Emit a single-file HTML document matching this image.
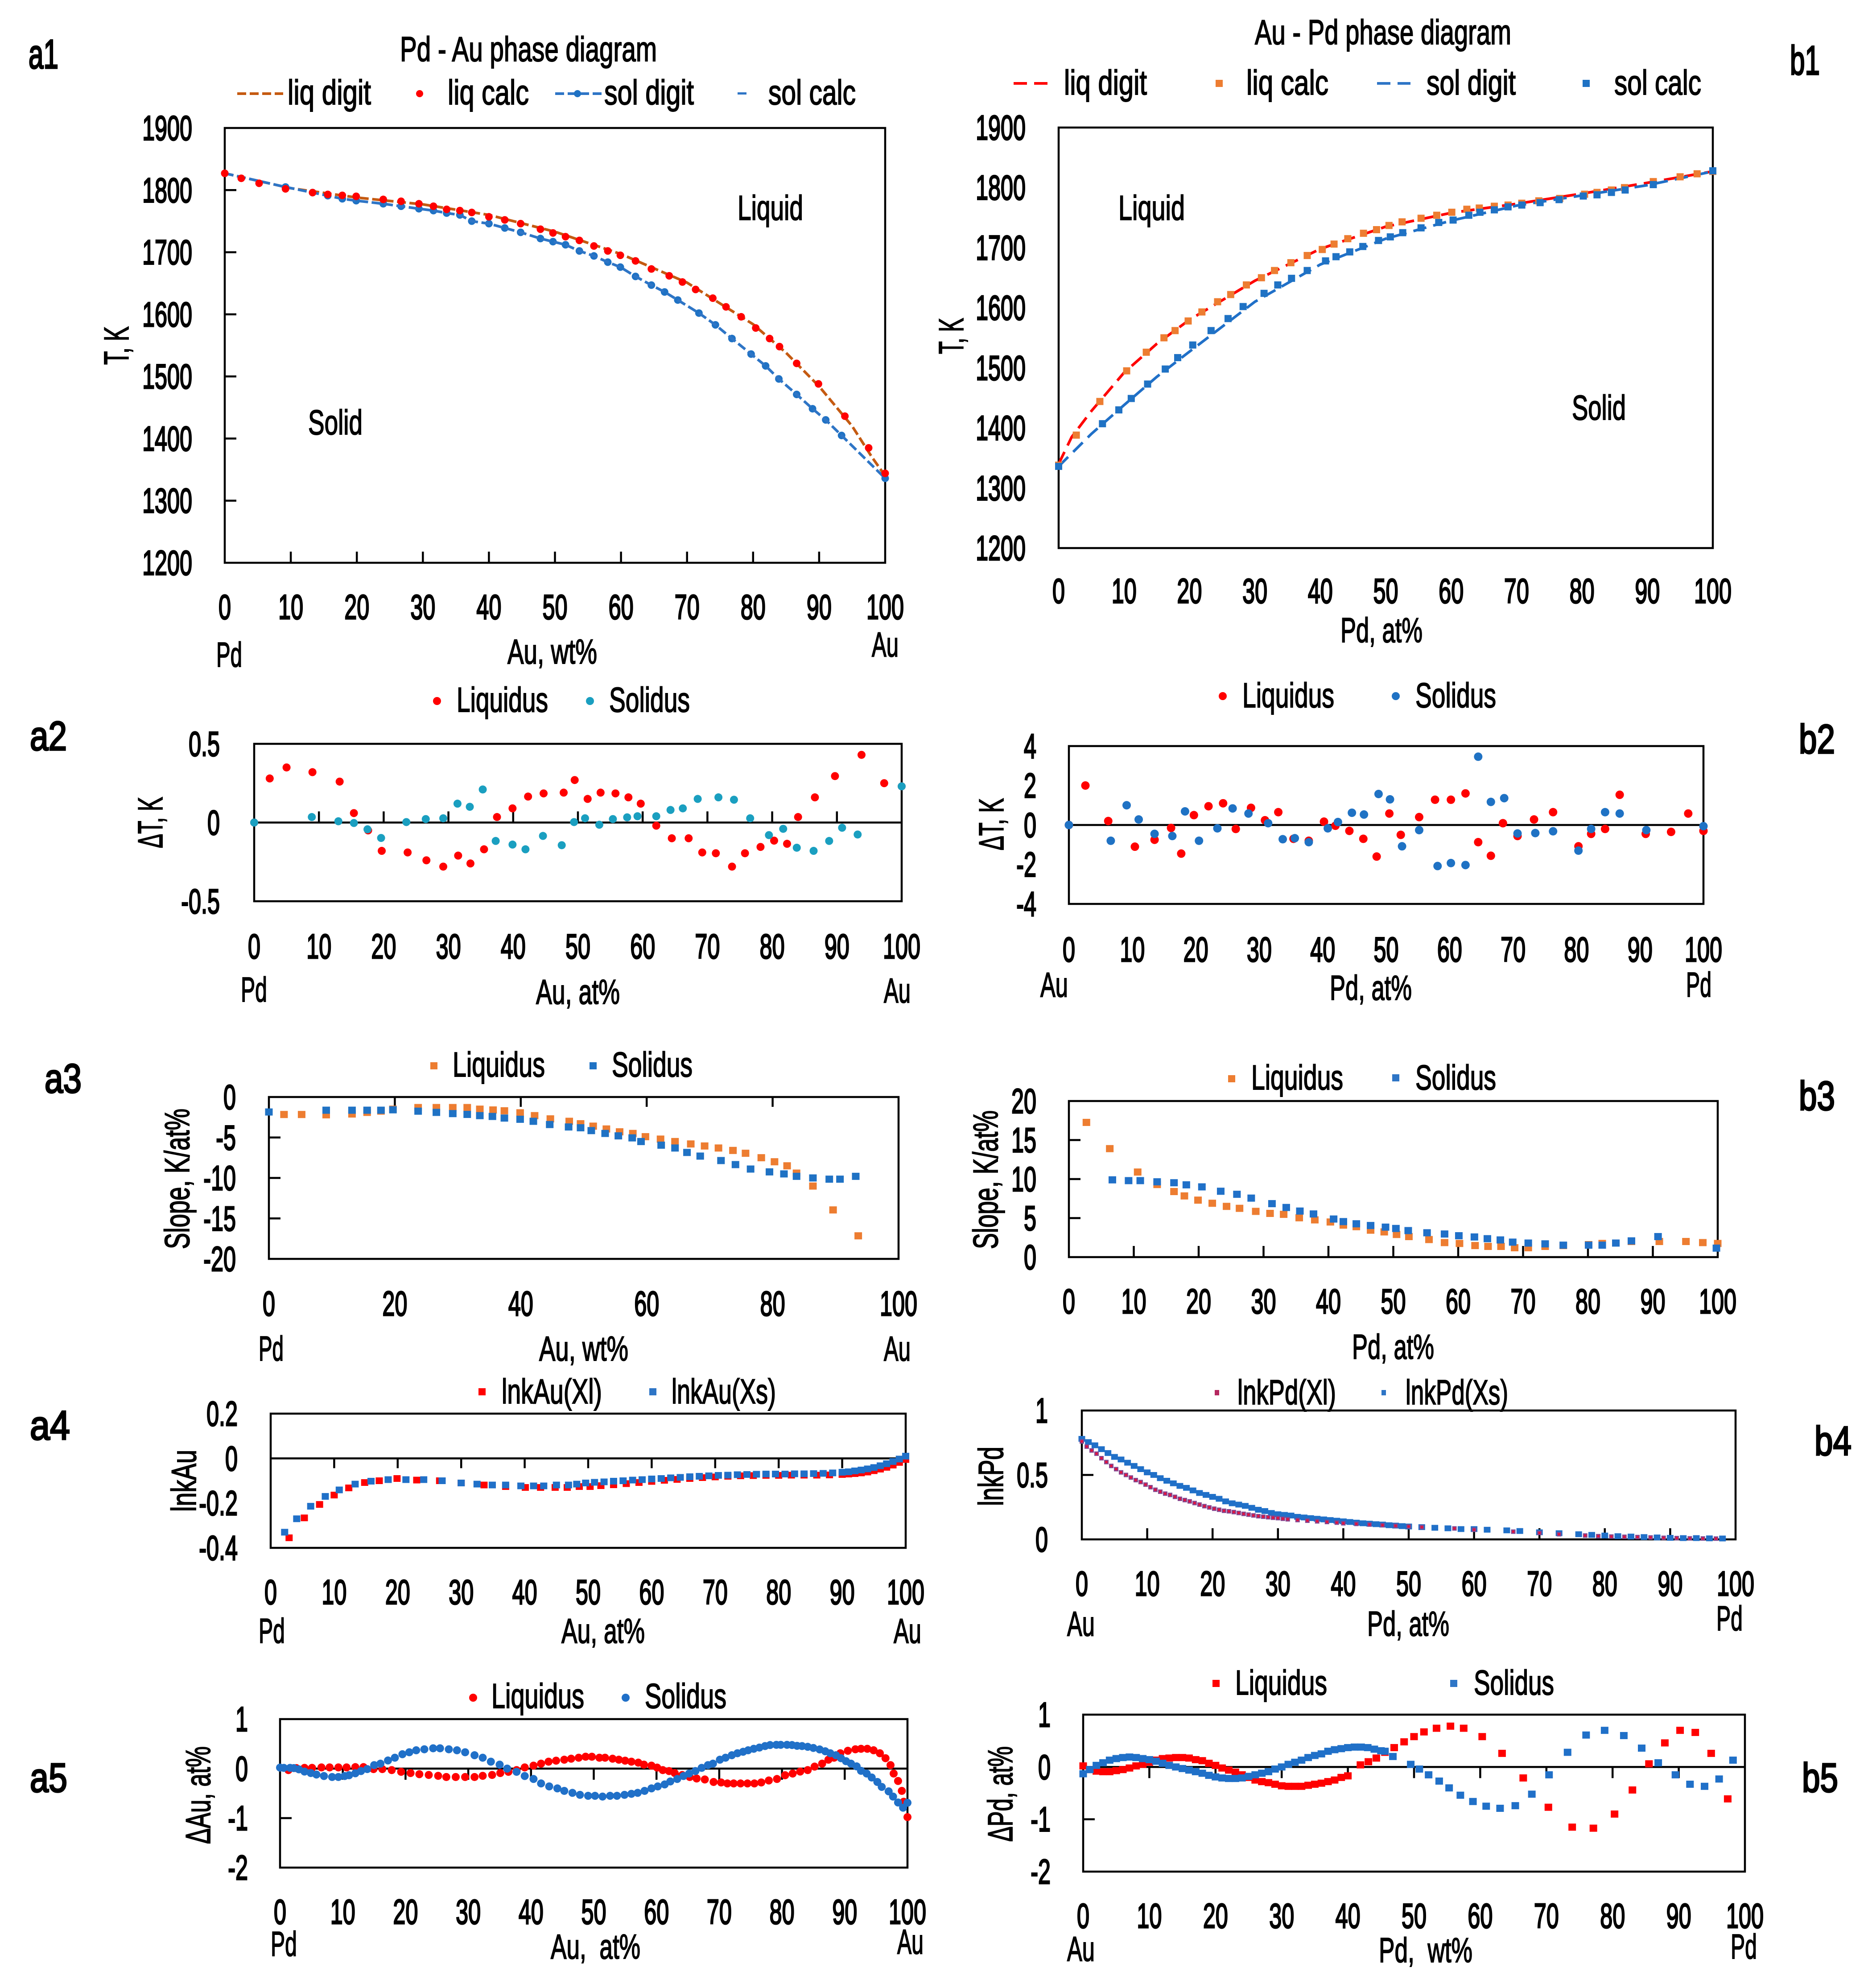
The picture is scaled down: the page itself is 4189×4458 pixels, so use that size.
<!DOCTYPE html>
<html lang="en">
<head>
<meta charset="utf-8">
<title>Pd-Au phase diagram panels</title>
<style>
html,body{margin:0;padding:0;background:#fff;}
svg{display:block;}
text{font-family:"Liberation Sans",sans-serif;font-size:78px;fill:#000;stroke:#000;stroke-width:2;}
.p{font-size:92px;stroke-width:3.5;}
</style>
</head>
<body>
<svg id="fig" xmlns="http://www.w3.org/2000/svg" width="4189" height="4458" viewBox="0 0 4189 4458">
<rect width="4189" height="4458" fill="#fff"/>

<!-- panel labels -->
<text class="p" x="64" y="153" textLength="67" lengthAdjust="spacingAndGlyphs">a1</text>
<text class="p" x="4014" y="167" textLength="67" lengthAdjust="spacingAndGlyphs">b1</text>
<text class="p" x="67" y="1682" textLength="83" lengthAdjust="spacingAndGlyphs">a2</text>
<text class="p" x="4034" y="1689" textLength="81" lengthAdjust="spacingAndGlyphs">b2</text>
<text class="p" x="100" y="2450" textLength="83" lengthAdjust="spacingAndGlyphs">a3</text>
<text class="p" x="4034" y="2489" textLength="81" lengthAdjust="spacingAndGlyphs">b3</text>
<text class="p" x="67" y="3228" textLength="90" lengthAdjust="spacingAndGlyphs">a4</text>
<text class="p" x="4069" y="3263" textLength="83" lengthAdjust="spacingAndGlyphs">b4</text>
<text class="p" x="67" y="4018" textLength="84" lengthAdjust="spacingAndGlyphs">a5</text>
<text class="p" x="4041" y="4018" textLength="81" lengthAdjust="spacingAndGlyphs">b5</text>

<!-- a1 static text -->
<text x="897" y="137" textLength="576" lengthAdjust="spacingAndGlyphs">Pd - Au phase diagram</text>
<g>
<line x1="532" y1="210" x2="635" y2="210" stroke="#c55a11" stroke-width="6" stroke-dasharray="20 8"/>
<text x="645" y="234" textLength="187" lengthAdjust="spacingAndGlyphs">liq digit</text>
<circle cx="941" cy="210" r="8" fill="#ff0000"/>
<text x="1004" y="234" textLength="182" lengthAdjust="spacingAndGlyphs">liq calc</text>
<line x1="1245" y1="210" x2="1350" y2="210" stroke="#2e75c6" stroke-width="6" stroke-dasharray="20 8"/>
<circle cx="1295" cy="210" r="8" fill="#1f72c4"/>
<text x="1355" y="234" textLength="201" lengthAdjust="spacingAndGlyphs">sol digit</text>
<rect x="1654" y="207" width="20" height="5" fill="#2e75c6"/>
<text x="1723" y="234" textLength="196" lengthAdjust="spacingAndGlyphs">sol calc</text>
</g>
<text x="1654" y="493" textLength="147" lengthAdjust="spacingAndGlyphs">Liquid</text>
<text x="691" y="974" textLength="122" lengthAdjust="spacingAndGlyphs">Solid</text>
<text x="485" y="1495" textLength="58" lengthAdjust="spacingAndGlyphs">Pd</text>
<text x="1138" y="1488" textLength="201" lengthAdjust="spacingAndGlyphs">Au, wt%</text>
<text x="1955" y="1472" textLength="60" lengthAdjust="spacingAndGlyphs">Au</text>
<text transform="translate(288 818) rotate(-90)" textLength="86" lengthAdjust="spacingAndGlyphs">T, K</text>

<!-- b1 static text -->
<text x="2814" y="99" textLength="575" lengthAdjust="spacingAndGlyphs">Au - Pd phase diagram</text>
<g>
<line x1="2273" y1="187" x2="2350" y2="187" stroke="#ff0000" stroke-width="6" stroke-dasharray="30 16"/>
<text x="2386" y="212" textLength="186" lengthAdjust="spacingAndGlyphs">liq digit</text>
<rect x="2726" y="179" width="16" height="16" fill="#ed7d31"/>
<text x="2795" y="212" textLength="184" lengthAdjust="spacingAndGlyphs">liq calc</text>
<line x1="3088" y1="187" x2="3163" y2="187" stroke="#2e75c6" stroke-width="6" stroke-dasharray="30 16"/>
<text x="3199" y="212" textLength="200" lengthAdjust="spacingAndGlyphs">sol digit</text>
<rect x="3549" y="179" width="16" height="16" fill="#1f72c4"/>
<text x="3620" y="212" textLength="195" lengthAdjust="spacingAndGlyphs">sol calc</text>
</g>
<text x="2508" y="493" textLength="149" lengthAdjust="spacingAndGlyphs">Liquid</text>
<text x="3525" y="941" textLength="121" lengthAdjust="spacingAndGlyphs">Solid</text>
<text x="3006" y="1440" textLength="184" lengthAdjust="spacingAndGlyphs">Pd, at%</text>
<text transform="translate(2160 794) rotate(-90)" textLength="81" lengthAdjust="spacingAndGlyphs">T, K</text>

<!-- a2 static text -->
<g>
<circle cx="980" cy="1572" r="9" fill="#ff0000"/>
<text x="1024" y="1596" textLength="205" lengthAdjust="spacingAndGlyphs">Liquidus</text>
<circle cx="1323" cy="1572" r="9" fill="#1a9fc0"/>
<text x="1366" y="1596" textLength="181" lengthAdjust="spacingAndGlyphs">Solidus</text>
</g>
<text x="540" y="2246" textLength="59" lengthAdjust="spacingAndGlyphs">Pd</text>
<text x="1202" y="2251" textLength="188" lengthAdjust="spacingAndGlyphs">Au, at%</text>
<text x="1982" y="2248" textLength="60" lengthAdjust="spacingAndGlyphs">Au</text>
<text transform="translate(364 1902) rotate(-90)" textLength="115" lengthAdjust="spacingAndGlyphs">ΔT, K</text>

<!-- b2 static text -->
<g>
<circle cx="2742" cy="1561" r="9" fill="#ff0000"/>
<text x="2786" y="1586" textLength="206" lengthAdjust="spacingAndGlyphs">Liquidus</text>
<circle cx="3130" cy="1561" r="9" fill="#1f72c4"/>
<text x="3174" y="1586" textLength="181" lengthAdjust="spacingAndGlyphs">Solidus</text>
</g>
<text x="2333" y="2235" textLength="62" lengthAdjust="spacingAndGlyphs">Au</text>
<text x="2982" y="2242" textLength="184" lengthAdjust="spacingAndGlyphs">Pd, at%</text>
<text x="3781" y="2235" textLength="57" lengthAdjust="spacingAndGlyphs">Pd</text>
<text transform="translate(2250 1907) rotate(-90)" textLength="117" lengthAdjust="spacingAndGlyphs">ΔT, K</text>

<!-- a3 static text -->
<g>
<rect x="965" y="2382" width="16" height="16" fill="#ed7d31"/>
<text x="1015" y="2414" textLength="207" lengthAdjust="spacingAndGlyphs">Liquidus</text>
<rect x="1322" y="2382" width="16" height="16" fill="#1f72c4"/>
<text x="1372" y="2414" textLength="181" lengthAdjust="spacingAndGlyphs">Solidus</text>
</g>
<text x="580" y="3051" textLength="56" lengthAdjust="spacingAndGlyphs">Pd</text>
<text x="1209" y="3051" textLength="200" lengthAdjust="spacingAndGlyphs">Au, wt%</text>
<text x="1982" y="3051" textLength="60" lengthAdjust="spacingAndGlyphs">Au</text>
<text transform="translate(424 2801) rotate(-90)" textLength="315" lengthAdjust="spacingAndGlyphs">Slope, K/at%</text>

<!-- b3 static text -->
<g>
<rect x="2754" y="2411" width="16" height="16" fill="#ed7d31"/>
<text x="2806" y="2443" textLength="206" lengthAdjust="spacingAndGlyphs">Liquidus</text>
<rect x="3122" y="2409" width="16" height="16" fill="#2e75c6"/>
<text x="3174" y="2443" textLength="181" lengthAdjust="spacingAndGlyphs">Solidus</text>
</g>
<text x="3032" y="3047" textLength="184" lengthAdjust="spacingAndGlyphs">Pd, at%</text>
<text transform="translate(2237 2801) rotate(-90)" textLength="311" lengthAdjust="spacingAndGlyphs">Slope, K/at%</text>

<!-- a4 static text -->
<g>
<rect x="1073" y="3113" width="16" height="16" fill="#ff0000"/>
<text x="1125" y="3147" textLength="225" lengthAdjust="spacingAndGlyphs">lnkAu(Xl)</text>
<rect x="1456" y="3113" width="16" height="16" fill="#2e75c6"/>
<text x="1506" y="3147" textLength="234" lengthAdjust="spacingAndGlyphs">lnkAu(Xs)</text>
</g>
<text x="580" y="3684" textLength="59" lengthAdjust="spacingAndGlyphs">Pd</text>
<text x="1259" y="3684" textLength="187" lengthAdjust="spacingAndGlyphs">Au, at%</text>
<text x="2004" y="3684" textLength="62" lengthAdjust="spacingAndGlyphs">Au</text>
<text transform="translate(439 3390) rotate(-90)" textLength="139" lengthAdjust="spacingAndGlyphs">lnkAu</text>

<!-- b4 static text -->
<g>
<rect x="2724" y="3117" width="10" height="12" fill="#b5285f"/>
<text x="2775" y="3149" textLength="221" lengthAdjust="spacingAndGlyphs">lnkPd(Xl)</text>
<rect x="3098" y="3117" width="10" height="12" fill="#2e75c6"/>
<text x="3152" y="3149" textLength="230" lengthAdjust="spacingAndGlyphs">lnkPd(Xs)</text>
</g>
<text x="2393" y="3668" textLength="62" lengthAdjust="spacingAndGlyphs">Au</text>
<text x="3066" y="3668" textLength="184" lengthAdjust="spacingAndGlyphs">Pd, at%</text>
<text x="3849" y="3656" textLength="59" lengthAdjust="spacingAndGlyphs">Pd</text>
<text transform="translate(2249 3377) rotate(-90)" textLength="133" lengthAdjust="spacingAndGlyphs">lnkPd</text>

<!-- a5 static text -->
<g>
<circle cx="1061" cy="3807" r="9" fill="#ff0000"/>
<text x="1102" y="3830" textLength="208" lengthAdjust="spacingAndGlyphs">Liquidus</text>
<circle cx="1403" cy="3807" r="9" fill="#2070c8"/>
<text x="1446" y="3830" textLength="183" lengthAdjust="spacingAndGlyphs">Solidus</text>
</g>
<text x="607" y="4386" textLength="59" lengthAdjust="spacingAndGlyphs">Pd</text>
<text x="1235" y="4392" textLength="201" lengthAdjust="spacingAndGlyphs" xml:space="preserve">Au,  at%</text>
<text x="2012" y="4381" textLength="59" lengthAdjust="spacingAndGlyphs">Au</text>
<text transform="translate(471 4135) rotate(-90)" textLength="219" lengthAdjust="spacingAndGlyphs">ΔAu, at%</text>

<!-- b5 static text -->
<g>
<rect x="2719" y="3767" width="16" height="16" fill="#ff0000"/>
<text x="2770" y="3800" textLength="206" lengthAdjust="spacingAndGlyphs">Liquidus</text>
<rect x="3252" y="3767" width="16" height="16" fill="#2e75c6"/>
<text x="3305" y="3800" textLength="180" lengthAdjust="spacingAndGlyphs">Solidus</text>
</g>
<text x="2393" y="4397" textLength="62" lengthAdjust="spacingAndGlyphs">Au</text>
<text x="3092" y="4400" textLength="210" lengthAdjust="spacingAndGlyphs" xml:space="preserve">Pd,  wt%</text>
<text x="3881" y="4392" textLength="59" lengthAdjust="spacingAndGlyphs">Pd</text>
<text transform="translate(2270 4130) rotate(-90)" textLength="214" lengthAdjust="spacingAndGlyphs">ΔPd, at%</text>
</svg>

<script>
/* ---------- tick labels ---------- */
const tens = [0,10,20,30,40,50,60,70,80,90,100];
const twenties = [0,20,40,60,80,100];
const a1YTicks = [1200,1300,1400,1500,1600,1700,1800,1900];
const a2YTicks = [-0.5,0,0.5];
const a3YTicks = [-20,-15,-10,-5,0];
const a4YTicks = [-0.4,-0.2,0,0.2];
const a5YTicks = [-2,-1,0,1];
const b2YTicks = [-4,-2,0,2,4];
const b3YTicks = [0,5,10,15,20];
const b4YTicks = [0,0.5,1];

/* ---------- a1 ---------- */
const a1LiqCalcX = [0,2.5,5.2,9.2,13.3,15.6,17.8,19.9,24,26.7,29.4,31.6,33.6,35.6,37.4,40,42.4,44.8,47.8,49.7,51.6,53.7,55.9,58,59.9,62.2,64.6,67.3,69.3,71.3,73.9,75.9,78.2,80.4,82.5,84,86.6,89.9,93.9,97.5,100];
const a1LiqCalcT = [1827,1819,1811,1802,1796,1793,1791.5,1790,1785,1782,1778,1774,1769,1767,1764,1757,1752,1746,1737,1731,1725,1719,1710,1702,1695,1686,1673,1662,1652,1640,1626,1612,1596,1578,1561,1548,1521,1488,1436,1385,1344];
const a1LiqDigitX = [0,10,20,30,40,50,60,70,80,85,90,95,98,100];
const a1LiqDigitT = [1827,1803,1788,1777,1760,1733,1697,1651,1584,1538,1484,1420,1370,1340];
const a1SolDigitX = [0,9.2,13.3,15.6,17.8,19.9,24,26.7,29.4,31.6,33.6,35.6,37.4,40,42.4,44.8,47.8,49.7,51.6,53.7,55.9,58,59.9,62.2,64.6,66.6,68.6,71.8,74.3,76.8,79.7,81.9,83.9,86.6,89,91,93.4,100];
const a1SolDigitT = [1827,1805,1796,1791,1786,1783,1778,1774,1770,1767,1763,1760,1750,1746,1739,1732,1722,1717,1712,1702,1694,1684,1676,1661,1647,1636,1623,1602,1583,1561,1536,1517,1496,1471,1448,1430,1405,1336];

/* ---------- b1 ---------- */
const b1LiqCalcX = [0,2.7,6.3,10.4,13.4,16.1,17.8,19.8,21.9,24.3,26.3,28.7,31,33,35.5,38,40.3,42.1,44.2,46.6,48.6,50.5,52.5,55.4,57.8,60.1,62.4,64.3,66.6,68.7,70.8,73.4,76.6,80.4,82.3,84.5,86.5,90.9,95,97.6,100];
const b1LiqCalcT = [1338,1388,1444,1495,1526,1550,1562,1578,1593,1610,1622,1638,1650,1662,1675,1687,1697,1706,1715,1724,1730,1737,1743,1749,1754,1759,1764,1766,1769,1771,1774,1778,1782,1789,1792,1796,1800,1810,1818,1823,1827];
const b1SolCalcX = [0,6.7,9.2,11.1,13.6,16.3,18.2,20.5,23.3,25.9,28.2,31.4,33.5,35.6,38,40.8,42.4,44.5,46.5,48.9,50.7,52.6,55.4,58.1,60.3,62.7,64.4,66.6,68.7,70.8,73.6,76.5,80.2,82.3,84.5,86.6,90.9,100];
const b1SolCalcT = [1336,1407,1430,1449,1473,1498,1517,1538,1562,1582,1602,1624,1638,1649,1662,1678,1685,1693,1702,1712,1718,1725,1733,1742,1746,1754,1759,1763,1768,1771,1775,1780,1786,1788,1792,1796,1805,1828];
const b1LiqDigitX = [0,2,5,10,15,20,30,40,50,60,70,80,90,100];
const b1LiqDigitT = [1340,1385,1428,1492,1540,1580,1645,1698,1735,1758,1773,1790,1808,1827];
const b1SolDigitX = [0,5,10,15,20,30,40,50,60,70,80,90,100];
const b1SolDigitT = [1336,1390,1438,1485,1527,1610,1672,1715,1745,1770,1787,1804,1827];

/* ---------- a2 ---------- */
const a2LiqX = [0,2.4,5,9,13.2,15.4,17.6,19.7,23.7,26.6,29.2,31.5,33.4,35.5,37.5,39.9,42.3,44.7,47.8,49.5,51.5,53.5,55.8,57.8,59.7,62.1,64.5,67.1,69.2,71.3,73.8,75.8,78.2,80.3,82.3,84,86.6,89.7,93.8,97.3,100];
const a2LiqY = [0,.28,.35,.32,.26,.06,-.05,-.18,-.19,-.24,-.28,-.21,-.26,-.17,.035,.09,.165,.185,.19,.27,.15,.19,.185,.16,.12,-.02,-.1,-.1,-.19,-.195,-.28,-.195,-.155,-.115,-.135,.035,.16,.295,.43,.25,.23];
const a2SolX = [0,8.9,13,15.4,17.5,19.6,23.5,26.5,29.2,31.4,33.3,35.3,37.3,39.9,41.9,44.6,47.5,49.4,51.1,53.3,55.4,57.6,59.2,62.1,64.3,66.2,68.5,71.7,74.1,76.6,79.5,81.7,83.8,86.4,88.8,90.8,93.2,100];
const a2SolY = [0,.035,.008,-.003,-.043,-.098,.003,.022,.027,.12,.1,.21,-.117,-.14,-.17,-.085,-.144,.003,.027,-.014,.022,.033,.04,.04,.08,.09,.15,.16,.145,.027,-.08,-.04,-.16,-.18,-.117,-.033,-.076,.23];

/* ---------- a3 ---------- */
const a3LiqX = [2.4,5.2,9.1,13.2,15.6,17.8,19.7,23.7,26.6,29.2,31.5,33.5,35.6,37.4,39.9,42.2,44.7,47.7,49.5,51.5,53.6,55.7,57.8,59.8,62.2,64.5,67,69.2,71.4,73.7,75.7,78.2,80.3,82.3,83.8,86.4,89.6,93.6];
const a3LiqY = [-2.16,-2.16,-2.2,-2.1,-1.9,-1.74,-1.5,-1.3,-1.3,-1.3,-1.3,-1.5,-1.6,-1.7,-1.95,-2.3,-2.7,-3,-3.3,-3.6,-3.95,-4.3,-4.5,-4.9,-5.2,-5.5,-5.8,-6.05,-6.3,-6.6,-6.95,-7.5,-8,-8.5,-9.4,-11,-13.95,-17.15];
const a3SolX = [0,9.1,13.2,15.6,17.8,19.7,23.7,26.6,29.2,31.5,33.5,35.5,37.4,39.9,42,44.6,47.6,49.5,51.2,53.4,55.5,57.7,59.1,62.3,64.5,66.4,68.5,71.8,74.1,76.5,79.5,81.8,83.8,86.4,89,90.7,93.2];
const a3SolY = [-1.85,-1.63,-1.63,-1.63,-1.63,-1.58,-1.75,-1.9,-2.05,-2.15,-2.3,-2.4,-2.6,-2.75,-3,-3.4,-3.7,-3.8,-4.15,-4.5,-4.8,-5.05,-5.5,-5.95,-6.3,-6.85,-7.3,-7.85,-8.35,-8.9,-9.25,-9.5,-9.8,-10,-10.15,-10.15,-9.8];

/* ---------- b2 ---------- */
const b2LiqX = [0,2.6,6.2,10.4,13.5,16.1,17.7,19.7,22,24.3,26.3,28.7,30.9,33,35.4,37.8,40.2,42,44.2,46.4,48.5,50.5,52.3,55.2,57.7,60.2,62.5,64.5,66.5,68.4,70.7,73.3,76.3,80.3,82.3,84.5,86.8,90.9,94.9,97.6,100];
const b2LiqY = [0,2,.2,-1.1,-.75,-.15,-1.45,.5,.95,1.1,-.2,.87,.24,.65,-.7,-.8,.17,-.04,-.3,-.7,-1.6,.58,-.5,.4,1.28,1.28,1.6,-.87,-1.56,.09,-.56,.28,.65,-1.08,-.45,-.2,1.53,-.45,-.35,.58,-.3];
const b2SolX = [0,6.6,9.1,11,13.5,16.3,18.3,20.5,23.4,25.8,28.3,31.4,33.7,35.6,37.8,40.8,42.4,44.6,46.5,48.8,50.6,52.5,55.2,58.1,60.2,62.5,64.5,66.5,68.6,70.7,73.5,76.3,80.3,82.3,84.5,86.8,91,100];
const b2SolY = [0,-.8,1,.28,-.45,-.56,.69,-.8,-.17,.84,.58,.09,-.72,-.67,-.87,-.17,.15,.62,.53,1.57,1.3,-1.08,-.26,-2.08,-1.93,-2.03,3.46,1.17,1.36,-.43,-.41,-.32,-1.3,-.2,.65,.58,-.26,-.06];

/* ---------- b3 ---------- */
const b3LiqX = [2.7,6.3,10.6,13.6,16.2,17.8,19.9,22.1,24.3,26.3,28.8,31,33.1,35.5,37.9,40.3,42.3,44.3,46.5,48.6,50.5,52.4,55.5,57.9,60.2,62.6,64.6,66.6,68.7,70.8,73.4,76.2,80.1,82.2,84.3,86.7,91,95.1,97.7,100];
const b3LiqY = [17.26,13.9,10.9,9.3,8.4,7.84,7.3,6.9,6.5,6.25,5.86,5.6,5.48,5.04,4.77,4.5,4.1,3.9,3.45,3.23,2.9,2.63,2.25,1.86,1.75,1.48,1.37,1.37,1.2,1.2,1.37,1.48,1.6,1.75,1.8,2,2,2,1.86,1.75];
const b3SolX = [6.7,9.2,11,13.6,16.2,18.1,20.5,23.4,25.9,28.1,31.3,33.5,35.6,37.7,40.8,42.3,44.3,46.5,48.8,50.4,52.3,55.2,57.9,60.1,62.5,64.5,66.5,68.4,70.8,73.4,76.2,80.1,82.2,84.3,86.7,90.8,99.8];
const b3SolY = [9.9,9.8,9.8,9.65,9.53,9.26,9,8.44,8.05,7.56,6.85,6.36,5.9,5.53,4.88,4.55,4.27,4.05,3.84,3.67,3.4,3.12,2.96,2.74,2.58,2.36,2.2,1.92,1.8,1.7,1.53,1.53,1.53,1.8,2.08,2.63,1.15];

/* ---------- a4 ---------- */
const a4XlX = [2.9,5.3,7.7,10,12.3,14.8,17.1,19.9,23,26.6,30,33.6,37,40.1,42.5,44.8,46.7,48.6,50.3,52,54,56,58,60,62,64,66,68,70,72,74,76,78,80,82,84,86,88,90,91,92,93,94,95,96,97,98,99,100];
const a4XlY = [-.355,-.266,-.206,-.164,-.132,-.108,-.1,-.09,-.097,-.1,-.11,-.119,-.126,-.13,-.13,-.13,-.13,-.126,-.126,-.122,-.118,-.113,-.108,-.103,-.098,-.094,-.09,-.086,-.083,-.08,-.078,-.077,-.076,-.076,-.075,-.075,-.075,-.074,-.072,-.07,-.068,-.065,-.061,-.055,-.048,-.04,-.03,-.018,-.005];
const a4XsX = [2.2,4.1,6.3,8.6,10.8,13.3,15.8,18.5,21.3,24.1,27,30,32.5,34.9,37,39.4,41.4,43,45,46.9,48.2,49.6,51,52.5,54,55.5,57,58.5,60,61.5,63,64.5,66,67.5,69,70.5,72,73.5,75,76.5,78,79.5,81,82.5,84,85.5,87,88.5,90,91,92,93,94,95,96,97,98,99,100];
const a4XsY = [-.33,-.27,-.214,-.17,-.141,-.115,-.102,-.095,-.095,-.095,-.1,-.11,-.115,-.119,-.119,-.123,-.123,-.123,-.119,-.119,-.115,-.11,-.107,-.105,-.102,-.1,-.097,-.095,-.092,-.09,-.087,-.085,-.082,-.08,-.078,-.076,-.075,-.073,-.072,-.071,-.07,-.07,-.07,-.069,-.069,-.068,-.067,-.065,-.062,-.06,-.056,-.052,-.047,-.041,-.033,-.024,-.014,-.003,.01];

/* ---------- b4 ---------- */
const b4XlX = [0,.75,1.5,2.25,3,3.75,4.5,5.25,6,6.75,7.5,8.25,9,9.75,10.5,11.25,12,12.75,13.5,14.25,15,15.75,16.5,17.25,18,18.75,19.5,20.25,21,21.75,22.5,23.25,24,24.75,25.5,26.25,27,27.75,28.5,29.25,30,30.75,31.5,33,34.5,36,37.5,39,40,42,44,46,48,50,52,57,60,66,70,73,77,79,81,83,85,87,89,91,93,95,97];
const b4XlY = [.76,.72,.69,.665,.63,.60,.57,.545,.52,.50,.48,.46,.445,.425,.405,.385,.37,.355,.345,.33,.315,.305,.295,.282,.27,.258,.248,.238,.23,.222,.218,.212,.205,.198,.192,.186,.18,.176,.172,.168,.165,.16,.156,.15,.145,.14,.135,.13,.125,.12,.115,.11,.105,.1,.095,.085,.075,.06,.05,.04,.03,.025,.022,.02,.018,.015,.012,.01,.008,.007,.006];
const b4XsX = [0,1,2,3,4,5,6,7,8,9,10,11,12,13,14,15,16,17,18,19,20,21,22,23,24,25,26,27,28,29,30,31,32,33,34,35,36,37,38,39,40,41,42,43,44,45,46,47,48,49,50,52,54,56,58,60,62,65,67,70,73,76,78,80,82,84,86,88,90,92,94,96,98];
const b4XsY = [.78,.755,.73,.70,.67,.64,.62,.595,.57,.545,.52,.50,.475,.455,.435,.415,.40,.38,.36,.345,.33,.315,.295,.28,.27,.26,.245,.23,.22,.205,.195,.19,.185,.175,.17,.165,.16,.155,.15,.145,.14,.135,.13,.125,.122,.118,.115,.11,.107,.103,.1,.095,.09,.086,.08,.08,.075,.07,.065,.055,.048,.04,.035,.03,.025,.022,.018,.015,.012,.01,.01,.008,.007];

/* ---------- a5 ---------- */
const a5LiqX = [1.33,2.6,3.9,5.1,6.6,7.9,9.3,10.6,12,13.3,14.9,16.3,17.8,19.3,20.8,22.2,23.7,25.2,26.5,28,29.5,31,32.3,33.8,35.1,36.4,37.7,39,40.4,41.6,42.8,44,45.3,46.4,47.6,48.7,49.7,50.9,51.8,53,54,55,56,57.1,58,59.2,60.1,61,62,62.9,64.1,65.3,66.4,67.7,69.1,70.3,71.3,72.3,73.4,74.5,75.6,76.7,77.9,79.2,80.5,81.7,82.9,84.1,85.2,86.4,87.4,88.3,89.3,90.5,91.7,92.6,93.6,94.6,95.6,96.5,97.3,97.8,98.5,99.1,99.4,100];
const a5LiqY = [-.03,.01,.015,.015,.024,.024,.024,.024,.03,.03,-.01,-.01,-.03,-.065,-.09,-.113,-.128,-.146,-.17,-.17,-.17,-.17,-.146,-.128,-.09,-.065,-.03,.024,.06,.1,.14,.16,.18,.2,.22,.24,.24,.22,.22,.2,.18,.16,.14,.12,.08,.06,.02,-.03,-.05,-.09,-.13,-.17,-.2,-.22,-.27,-.28,-.3,-.3,-.3,-.3,-.3,-.28,-.24,-.21,-.134,-.1,-.06,-.03,.04,.1,.18,.22,.31,.36,.39,.4,.4,.37,.31,.21,.07,-.1,-.25,-.45,-.67,-.98];
const a5SolX = [0,.6,1.6,2.2,3,3.9,4.9,5.8,7,8.3,9.3,10.3,11,12,12.9,13.9,15,16,17.2,18.3,19.5,20.6,21.7,23,24.4,25.5,26.9,28.2,29.5,31,32.3,33.6,35,36.2,37.7,39,40.4,41.6,42.9,44.2,45.3,46.6,47.8,49.1,50.2,51.4,52.6,53.7,54.9,56,57,58.1,59.2,60.2,61.3,62.2,63.3,64.3,65.2,66.2,67.2,68.2,69,70.1,71,72,72.9,73.8,74.6,75.5,76.4,77.3,78.1,79.1,79.8,80.8,81.6,82.4,83.2,84.1,85,86,86.9,87.7,88.6,89.4,90.2,91,91.9,92.6,93.5,94.3,95.2,95.9,97,97.7,98.5,99.3,100];
const a5SolY = [.02,.015,.015,.01,-.015,-.06,-.09,-.12,-.15,-.17,-.17,-.15,-.134,-.095,-.05,-.01,.07,.1,.164,.22,.29,.33,.37,.39,.41,.41,.39,.37,.33,.27,.22,.14,.08,0,-.065,-.15,-.21,-.3,-.36,-.4,-.45,-.49,-.53,-.55,-.55,-.565,-.55,-.55,-.53,-.51,-.49,-.45,-.4,-.36,-.32,-.26,-.21,-.15,-.1,-.05,.015,.07,.1,.18,.22,.27,.31,.34,.37,.4,.425,.455,.476,.48,.48,.48,.476,.46,.455,.44,.417,.387,.35,.31,.27,.21,.15,.1,.045,-.045,-.1,-.18,-.27,-.37,-.46,-.565,-.685,-.79,-.69];

/* ---------- b5 ---------- */
const b5LiqX = [0,1,2,3,4,5,6,7,8,9,10,11,12,13,14,15,16,17,18,19,20,21,22,23,24,25,26,27,28,29,30,31,32,33,34,35,36,37,38,39,40,41.9,43.1,44.3,45.6,47,48.5,50,51.5,53.4,55.5,57.5,60.3,63.3,66.5,70.3,73.9,77.1,80.3,83,85.5,87.9,90.2,92.5,94.9,97.4];
const b5LiqY = [.02,-.05,-.08,-.09,-.09,-.07,-.05,-.02,.02,.05,.09,.13,.16,.17,.18,.18,.17,.14,.12,.07,.03,-.02,-.06,-.1,-.15,-.2,-.25,-.28,-.3,-.33,-.36,-.37,-.37,-.37,-.35,-.33,-.31,-.28,-.25,-.2,-.17,.04,.1,.17,.28,.37,.48,.58,.67,.74,.78,.74,.58,.26,-.21,-.77,-1.15,-1.17,-.9,-.44,.06,.46,.7,.66,.26,-.61];
const b5SolX = [0,1,2,3,4,5,6,7,8,9,10,11,12,13,14,15,16,17,18,19,20,21,22,23,24,25,26,27,28,29,30,31,32,33,34,35,36,37,38,39,40,41,42,43,44,45,45.6,46.8,49.5,50.8,52.2,53.8,55.3,57,58.9,60.9,63,65.3,67.8,70.4,73.2,76,78.8,81.7,84.4,86.9,89.5,91.7,93.9,96.1,98.2];
const b5SolY = [-.13,-.05,.03,.08,.13,.16,.18,.19,.18,.16,.14,.11,.07,.03,0,-.03,-.06,-.09,-.12,-.16,-.19,-.21,-.22,-.22,-.21,-.18,-.15,-.12,-.09,-.04,0,.05,.09,.13,.18,.22,.25,.3,.33,.35,.37,.38,.38,.37,.34,.31,.3,.2,.05,-.04,-.15,-.27,-.4,-.54,-.66,-.75,-.79,-.74,-.52,-.15,.28,.61,.7,.6,.36,.08,-.15,-.33,-.37,-.23,.13];

const SVGNS = 'http://www.w3.org/2000/svg';
const fig = document.getElementById('fig');

function makeAxes(c){
  const sx = v => c.l + (v - c.x0) / (c.x1 - c.x0) * (c.r - c.l);
  const sy = v => c.b - (v - c.y0) / (c.y1 - c.y0) * (c.b - c.t);
  return {sx, sy};
}

function drawFrame(c, ax){
  const el = document.createElementNS(SVGNS, 'rect');
  
  
  el.setAttribute('x', c.l);
  el.setAttribute('y', c.t);
  el.setAttribute('width', c.r - c.l);
  el.setAttribute('height', c.b - c.t);
  el.setAttribute('fill', 'none');
  el.setAttribute('stroke', '#000');
  el.setAttribute('stroke-width', 4.5);
  fig.appendChild(el);
  if (c.zero) {
    const z = document.createElementNS(SVGNS, 'line');
    
    
    z.setAttribute('x1', c.l);
    z.setAttribute('x2', c.r);
    z.setAttribute('y1', ax.sy(0));
    z.setAttribute('y2', ax.sy(0));
    z.setAttribute('stroke', '#000');
    z.setAttribute('stroke-width', 4.5);
    fig.appendChild(z);
  }
}

function drawTick(x1, y1, x2, y2){
  const el = document.createElementNS(SVGNS, 'line');
  
  
  el.setAttribute('x1', x1);
  el.setAttribute('y1', y1);
  el.setAttribute('x2', x2);
  el.setAttribute('y2', y2);
  el.setAttribute('stroke', '#000');
  el.setAttribute('stroke-width', 4.5);
  fig.appendChild(el);
}

function drawLabel(x, y, str, anchor){
  const el = document.createElementNS(SVGNS, 'text');
  
  
  el.setAttribute('transform', 'translate(' + x + ' ' + y + ') scale(.645 1)');
  el.setAttribute('text-anchor', anchor);
  el.style.strokeWidth = '3';
  el.textContent = str;
  fig.appendChild(el);
}

function drawAxes(c, ax){
  c.xTicks.forEach(v => {
    drawLabel(ax.sx(v), c.xLabelY, String(v), 'middle');
    if (c.xTickFrom !== undefined && v > c.x0 && v < c.x1) {
      const base = c.xTickFrom === 'bottom' ? c.b : c.xTickFrom === 'top' ? c.t : ax.sy(0);
      drawTick(ax.sx(v), base, ax.sx(v), base + c.xTickLen);
    }
  });
  c.yTicks.forEach(v => {
    drawLabel(c.yLabelX, ax.sy(v) + 27, String(v), 'end');
  });
  (c.yInner || []).forEach(v => {
    drawTick(c.l, ax.sy(v), c.l + 26, ax.sy(v));
  });
}

function drawLine(ax, xs, ys, color, dash){
  const el = document.createElementNS(SVGNS, 'polyline');
  
  
  el.setAttribute('points', xs.map((x, i) => ax.sx(x) + ',' + ax.sy(ys[i])).join(' '));
  el.setAttribute('fill', 'none');
  el.setAttribute('stroke', color);
  el.setAttribute('stroke-width', 6);
  el.setAttribute('stroke-dasharray', dash);
  fig.appendChild(el);
}

function drawDots(ax, xs, ys, color, r){
  xs.forEach((x, i) => {
    const el = document.createElementNS(SVGNS, 'circle');
    
    
    el.setAttribute('cx', ax.sx(x));
    el.setAttribute('cy', ax.sy(ys[i]));
    el.setAttribute('r', r);
    el.setAttribute('fill', color);
    fig.appendChild(el);
  });
}

function drawSquares(ax, xs, ys, color, w, h){
  xs.forEach((x, i) => {
    const el = document.createElementNS(SVGNS, 'rect');
    
    
    el.setAttribute('x', ax.sx(x) - w / 2);
    el.setAttribute('y', ax.sy(ys[i]) - h / 2);
    el.setAttribute('width', w);
    el.setAttribute('height', h);
    el.setAttribute('fill', color);
    fig.appendChild(el);
  });
}

function panel(c){
  const ax = makeAxes(c);
  drawFrame(c, ax);
  drawAxes(c, ax);
  return ax;
}

const RED = '#ff0000', BLUE = '#1f72c4', BLUE2 = '#2070c8', ORANGE = '#ed7d31', TEAL = '#1a9fc0';

/* a1 */
let ax = panel({l:504,r:1985,t:287,b:1262,x0:0,x1:100,y0:1200,y1:1900,xTicks:tens,yTicks:a1YTicks,xLabelY:1388,yLabelX:431,xTickFrom:'bottom',xTickLen:-25,yInner:a1YTicks.slice(1,-1)});
drawLine(ax, a1LiqDigitX, a1LiqDigitT, '#c55a11', '20 8');
drawDots(ax, a1SolDigitX, a1SolDigitT, BLUE, 8.5);
drawLine(ax, a1SolDigitX, a1SolDigitT, '#2e75c6', '20 8');
drawDots(ax, a1LiqCalcX, a1LiqCalcT, RED, 8.5);

/* b1 */
ax = panel({l:2374,r:3841,t:286,b:1229,x0:0,x1:100,y0:1200,y1:1900,xTicks:tens,yTicks:a1YTicks,xLabelY:1352,yLabelX:2300});
drawLine(ax, b1LiqDigitX, b1LiqDigitT, RED, '30 16');
drawLine(ax, b1SolDigitX, b1SolDigitT, BLUE2, '30 16');
drawSquares(ax, b1LiqCalcX, b1LiqCalcT, ORANGE, 16, 16);
drawSquares(ax, b1SolCalcX, b1SolCalcT, BLUE, 16, 16);

/* a2 */
ax = panel({l:570,r:2022,t:1668,b:2021,x0:0,x1:100,y0:-.5,y1:.5,zero:true,xTicks:tens,yTicks:a2YTicks,xLabelY:2149,yLabelX:493,xTickFrom:'zero',xTickLen:-25});
drawDots(ax, a2LiqX, a2LiqY, RED, 9);
drawDots(ax, a2SolX, a2SolY, TEAL, 9);

/* b2 */
ax = panel({l:2397,r:3820,t:1673,b:2027,x0:0,x1:100,y0:-4,y1:4,zero:true,xTicks:tens,yTicks:b2YTicks,xLabelY:2156,yLabelX:2324});
drawDots(ax, b2LiqX, b2LiqY, RED, 9.5);
drawDots(ax, b2SolX, b2SolY, BLUE, 9.5);

/* a3 */
ax = panel({l:603,r:2015,t:2460,b:2823,x0:0,x1:100,y0:-20,y1:0,xTicks:twenties,yTicks:a3YTicks,xLabelY:2950,yLabelX:529,xTickFrom:'top',xTickLen:22,yInner:[-15,-10,-5]});
drawSquares(ax, a3LiqX, a3LiqY, ORANGE, 17, 16);
drawSquares(ax, a3SolX, a3SolY, BLUE, 17, 16);

/* b3 */
ax = panel({l:2397,r:3852,t:2469,b:2819,x0:0,x1:100,y0:0,y1:20,xTicks:tens,yTicks:b3YTicks,xLabelY:2945,yLabelX:2324,xTickFrom:'bottom',xTickLen:-25,yInner:[5,10,15]});
drawSquares(ax, b3LiqX, b3LiqY, ORANGE, 17, 16);
drawSquares(ax, b3SolX, b3SolY, BLUE2, 17, 16);

/* a4 */
ax = panel({l:607,r:2031,t:3170,b:3471,x0:0,x1:100,y0:-.4,y1:.2,zero:true,xTicks:tens,yTicks:a4YTicks,xLabelY:3597,yLabelX:533,xTickFrom:'zero',xTickLen:22});
drawSquares(ax, a4XlX, a4XlY, RED, 16, 15);
drawSquares(ax, a4XsX, a4XsY, BLUE2, 16, 15);

/* b4 */
ax = panel({l:2426,r:3892,t:3163,b:3452,x0:0,x1:100,y0:0,y1:1,xTicks:tens,yTicks:b4YTicks,xLabelY:3578,yLabelX:2350,xTickFrom:'bottom',xTickLen:-25,yInner:[.5]});
drawSquares(ax, b4XsX, b4XsY, BLUE2, 15, 13);
drawSquares(ax, b4XlX, b4XlY, '#85458f', 10, 10);
drawSquares(ax, b4XlX, b4XlY, '#e8113a', 5, 5);

/* a5 */
ax = panel({l:628,r:2035,t:3855,b:4188,x0:0,x1:100,y0:-2,y1:1,zero:true,xTicks:tens,yTicks:a5YTicks,xLabelY:4314,yLabelX:556,xTickFrom:'zero',xTickLen:25,yInner:[-1]});
drawDots(ax, a5LiqX, a5LiqY, RED, 9);
drawDots(ax, a5SolX, a5SolY, BLUE2, 9);

/* b5 */
ax = panel({l:2429,r:3913,t:3845,b:4197,x0:0,x1:100,y0:-2,y1:1,zero:true,xTicks:tens,yTicks:a5YTicks,xLabelY:4323,yLabelX:2356,xTickFrom:'zero',xTickLen:25,yInner:[-1]});
drawSquares(ax, b5LiqX, b5LiqY, RED, 17, 16);
drawSquares(ax, b5SolX, b5SolY, BLUE2, 17, 16);
</script>
</body>
</html>
